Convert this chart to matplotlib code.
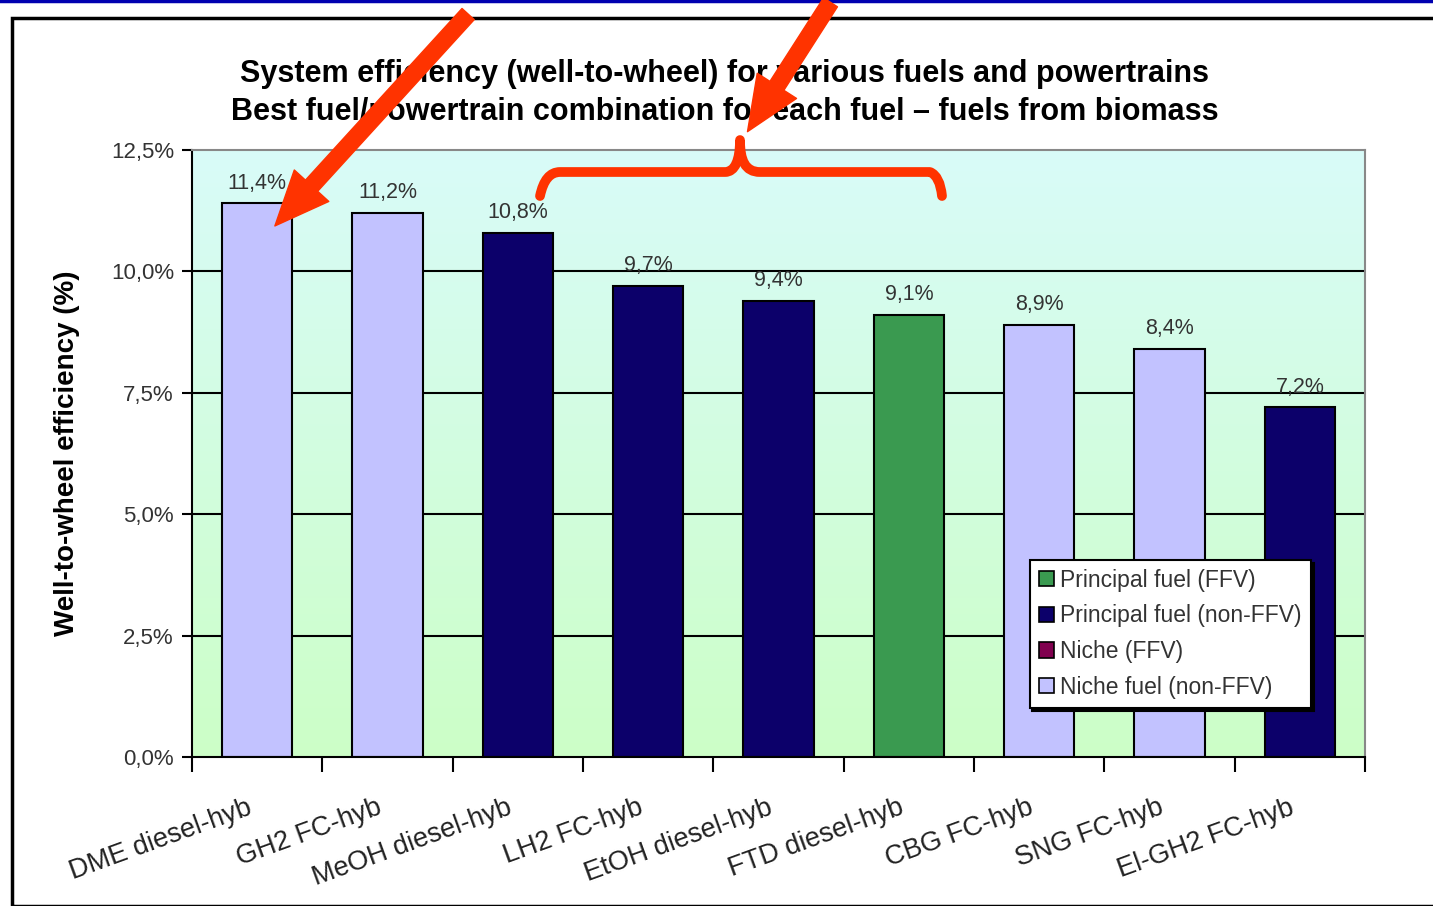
import numpy as np
import matplotlib
matplotlib.use("Agg")
import matplotlib.pyplot as plt
from matplotlib.patches import Patch, Rectangle, FancyArrowPatch, PathPatch
from matplotlib.path import Path

plt.rcParams['font.family'] = ['Liberation Sans', 'DejaVu Sans']

# data
fuels = ["DME diesel-hyb", "GH2 FC-hyb", "MeOH diesel-hyb", "LH2 FC-hyb", "EtOH diesel-hyb",
         "FTD diesel-hyb", "CBG FC-hyb", "SNG FC-hyb", "El-GH2 FC-hyb"]
efficiency = [11.4, 11.2, 10.8, 9.7, 9.4, 9.1, 8.9, 8.4, 7.2]
category = ["niche", "niche", "principal", "principal", "principal",
            "ffv", "niche", "niche", "principal"]
value_labels = ["11,4%", "11,2%", "10,8%", "9,7%", "9,4%", "9,1%", "8,9%", "8,4%", "7,2%"]
y_ticks = [0, 2.5, 5, 7.5, 10, 12.5]
y_tick_labels = ["0,0%", "2,5%", "5,0%", "7,5%", "10,0%", "12,5%"]

legend_names = ["Principal fuel (FFV)", "Principal fuel (non-FFV)", "Niche (FFV)", "Niche fuel (non-FFV)"]
colors = {"ffv": "#3a9a50", "principal": "#0c006a", "niche_ffv": "#80004f", "niche": "#c2c2ff"}
legend_colors = [colors["ffv"], colors["principal"], colors["niche_ffv"], colors["niche"]]

W, H = 1433, 906
fig = plt.figure(figsize=(W / 100, H / 100), dpi=100)


def fx(px):
    return px / W


def fy(py):
    return 1 - py / H


# outer frame and blue top rule
fig.patches.append(Rectangle((fx(12), fy(906)), fx(1433) - fx(12) + 0.01, fy(18) - fy(906),
                             transform=fig.transFigure, fill=False, edgecolor="black", lw=2.5, zorder=0))
fig.add_artist(plt.Line2D([0, 1], [fy(1), fy(1)], transform=fig.transFigure, color="#0000b0", lw=2.5))

ax = fig.add_axes([fx(192), fy(757), fx(1365) - fx(192), fy(150) - fy(757)])

# gradient background
grad = np.linspace(0, 1, 256).reshape(-1, 1)
top = np.array([0.85, 0.985, 0.975])
bot = np.array([0.80, 1.0, 0.78])
img = bot + (top - bot) * grad
ax.imshow(img[..., None, :].repeat(2, axis=1), extent=[-0.5, 8.5, 0, 12.5], origin="lower",
          aspect="auto", zorder=0)

for v in y_ticks[1:-1]:
    ax.axhline(v, color="black", lw=1.5, zorder=1)

x = np.arange(len(fuels))
bar_colors = [colors[c] for c in category]
ax.bar(x, efficiency, width=0.54, color=bar_colors, edgecolor="black", linewidth=1.5, zorder=2)

for xi, v, lab in zip(x, efficiency, value_labels):
    ax.text(xi, v + 0.2, lab, ha="center", va="bottom", fontsize=15.5, color="#333333", zorder=3)

ax.set_xlim(-0.5, 8.5)
ax.set_ylim(0, 12.5)
ax.set_yticks(y_ticks)
ax.set_yticklabels(y_tick_labels, fontsize=16, color="#333333")
ax.tick_params(axis="y", direction="out", length=7, width=1.5, pad=6)

ax.set_xticks(np.arange(-0.5, 9.0, 1.0))
ax.set_xticklabels([])
ax.tick_params(axis="x", which="major", direction="out", length=11, width=1.5)
ax.set_xticks(x - 0.05, minor=True)
ax.set_xticklabels(fuels, minor=True, rotation=20, ha="right", va="center",
                   rotation_mode="anchor", fontsize=19.5, color="#222222")
ax.tick_params(axis="x", which="minor", length=0, pad=36)

for s in ["left", "bottom"]:
    ax.spines[s].set_linewidth(1.5)
    ax.spines[s].set_color("black")
for s in ["top", "right"]:
    ax.spines[s].set_linewidth(1.5)
    ax.spines[s].set_color("#888888")

ax.set_ylabel("Well-to-wheel efficiency (%)", fontsize=20, fontweight="bold", labelpad=22)

fig.text(fx(725), fy(74), "System efficiency (well-to-wheel) for various fuels and powertrains",
         ha="center", va="center", fontsize=22, fontweight="bold")
fig.text(fx(725), fy(112), "Best fuel/powertrain combination for each fuel \u2013 fuels from biomass",
         ha="center", va="center", fontsize=22, fontweight="bold")

handles = [Patch(facecolor=c, edgecolor="black", linewidth=1.2) for c in legend_colors]
leg = ax.legend(handles, legend_names, loc="upper left", bbox_to_anchor=(0.714, 0.325),
                fontsize=16.5, frameon=True, fancybox=False, shadow={"color": "black", "alpha": 1},
                handlelength=0.65, handleheight=0.65, handletextpad=0.3, labelspacing=0.55,
                borderpad=0.4, borderaxespad=0, labelcolor="#333333")
leg.get_frame().set_edgecolor("black")
leg.get_frame().set_linewidth(1.5)
leg.set_zorder(5)

red = "#ff3300"
# brace
verts = [(540, 196), (545, 172), (560, 172), (575, 172),
         (700, 172), (725, 172),
         (735, 172), (740, 160), (740, 140),
         (740, 160), (745, 172), (760, 172),
         (915, 172), (930, 172),
         (940, 176), (942, 196)]
codes = [Path.MOVETO, Path.CURVE3, Path.CURVE3, Path.LINETO,
         Path.LINETO, Path.LINETO,
         Path.CURVE4, Path.CURVE4, Path.CURVE4,
         Path.CURVE4, Path.CURVE4, Path.CURVE4,
         Path.LINETO, Path.LINETO,
         Path.CURVE3, Path.CURVE3]
brace = Path([(fx(a), fy(b)) for a, b in verts], codes)
fig.patches.append(PathPatch(brace, transform=fig.transFigure, fill=False, edgecolor=red,
                             lw=7, capstyle="round", joinstyle="round", zorder=10))

# arrows
for (x0, y0), (x1, y1) in [((470, 12), (273, 228)), ((832, 0), (746, 134))]:
    fig.patches.append(FancyArrowPatch((fx(x0), fy(y0)), (fx(x1), fy(y1)), transform=fig.transFigure,
                                       arrowstyle="simple,head_length=2.8,head_width=2.4,tail_width=0.85",
                                       mutation_scale=14, color=red, zorder=11))

fig.savefig("out.png", dpi=100)
